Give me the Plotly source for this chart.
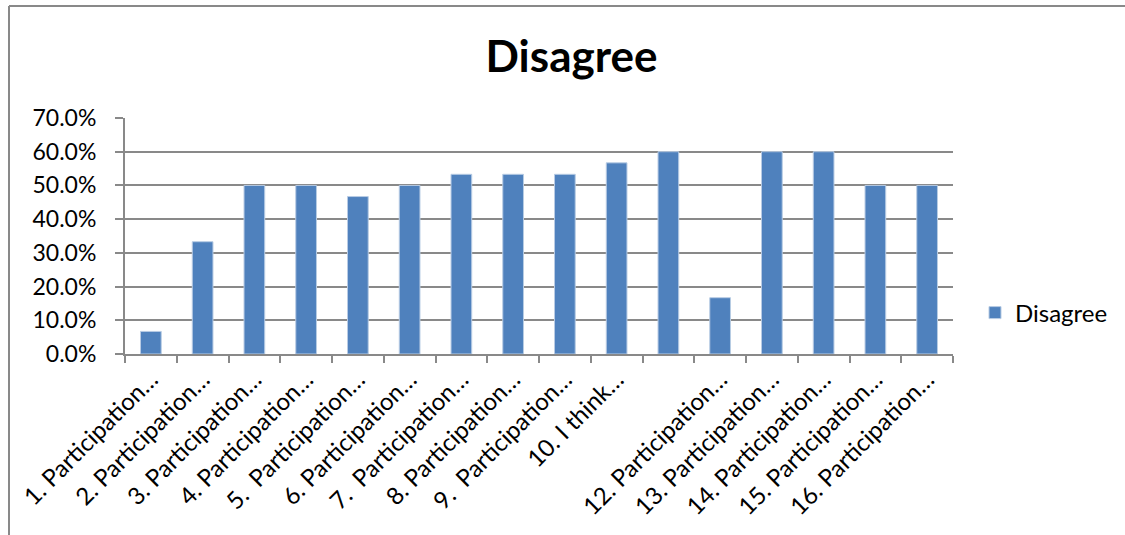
import plotly.graph_objects as go

# Survey items (11th item has no visible label)
categories = [
    "1. Participation…", "2. Participation…", "3. Participation…",
    "4. Participation…", "5.  Participation…", "6. Participation…",
    "7.  Participation…", "8. Participation…", "9.  Participation…",
    "10. I think…", " ", "12. Participation…", "13. Participation…",
    "14. Participation…", "15. Participation…", "16. Participation…",
]
# Share of respondents who disagree
disagree = [0.067, 0.333, 0.50, 0.50, 0.467, 0.50, 0.533, 0.533, 0.533,
            0.567, 0.60, 0.167, 0.60, 0.60, 0.50, 0.50]

y_ticks = [0.0, 0.1, 0.2, 0.3, 0.4, 0.5, 0.6, 0.7]

FONT = "Lato"
GRAY = "#898989"

fig = go.Figure()
fig.add_trace(go.Bar(
    x=categories, y=disagree, name="Disagree",
    marker=dict(color="#4F81BD", line=dict(color="#B8CCE4", width=1)),
    hoverinfo="skip",
))

# Chart-area frame (top and left edges)
W, L, B, H = 828, 125, 354, 236
def px_x(p): return (p - L) / W
def px_y(p): return (B - p) / H
frame = dict(type="line", xref="paper", yref="paper", line=dict(color=GRAY, width=2))
fig.add_shape(**frame, x0=px_x(9), x1=px_x(1125), y0=px_y(6), y1=px_y(6))
fig.add_shape(**frame, x0=px_x(9), x1=px_x(9), y0=px_y(6), y1=px_y(535))

fig.update_layout(
    width=1125, height=535,
    margin=dict(l=125, r=172, t=118, b=181, autoexpand=False),
    paper_bgcolor="white", plot_bgcolor="white",
    font=dict(family=FONT, color="black", size=23),
    title=dict(text="<b>Disagree</b>", x=0.508, xref="container", xanchor="center",
               y=1 - 57 / 535, yref="container", yanchor="middle",
               font=dict(family=FONT, size=44, color="black")),
    bargap=0.6,
    showlegend=True,
    legend=dict(x=px_x(975), y=px_y(313), xanchor="left", yanchor="middle",
                font=dict(family=FONT, size=24, color="black"),
                bgcolor="rgba(0,0,0,0)"),
    xaxis=dict(
        type="category", tickangle=-45, tickson="boundaries",
        ticks="outside", ticklen=7, tickcolor=GRAY, tickwidth=2,
        showline=True, linecolor=GRAY, linewidth=2,
        showgrid=False, tickfont=dict(family=FONT, size=24),
    ),
    yaxis=dict(
        range=[0, 0.7], tickvals=y_ticks, tickformat=".1%",
        ticks="outside", ticklen=8, tickcolor=GRAY, tickwidth=2,
        ticklabelstandoff=14,
        showline=True, linecolor=GRAY, linewidth=2,
        showgrid=True, gridcolor=GRAY, gridwidth=2,
        zeroline=False, tickfont=dict(family=FONT, size=23),
    ),
)

fig.write_html("out.html")
